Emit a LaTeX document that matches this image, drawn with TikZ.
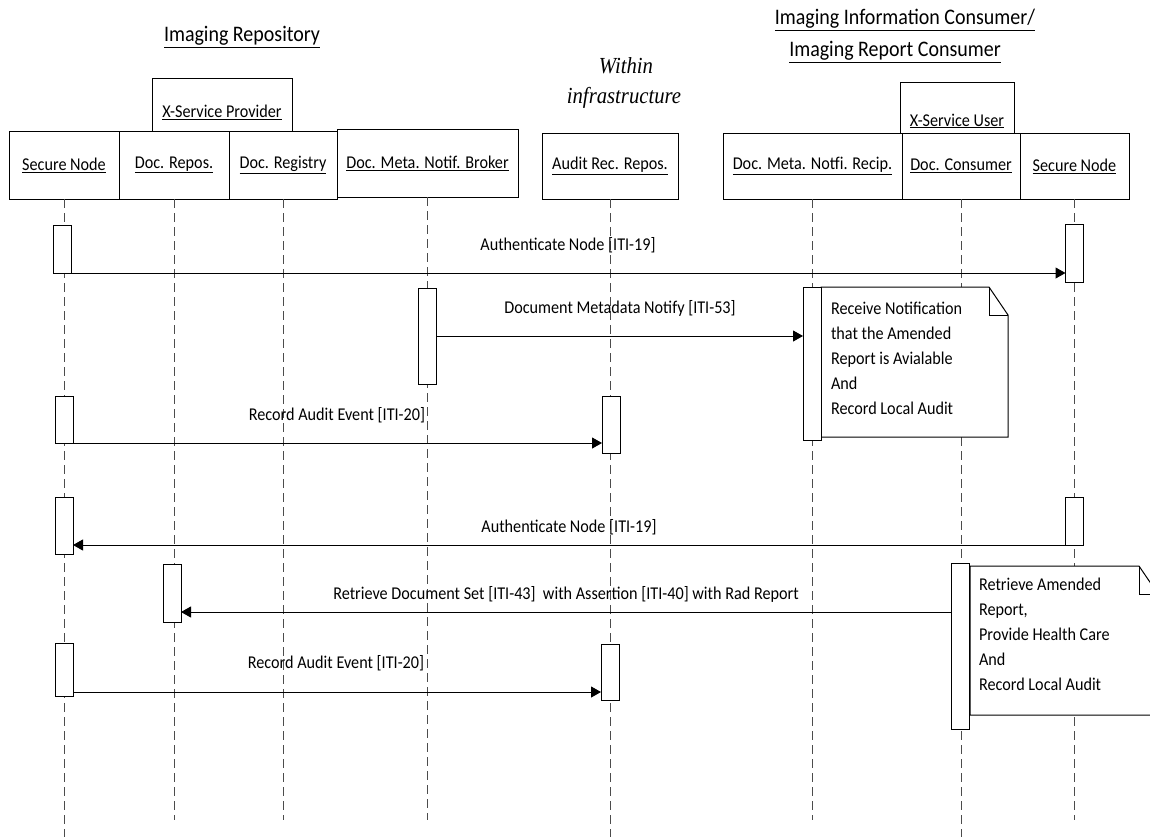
\documentclass[tikz,border=0pt]{standalone}
\usepackage{fontspec}
\setmainfont{Carlito}[FakeStretch=0.9]
\newfontfamily\serifit{Liberation Serif}[FakeStretch=0.9]
\usetikzlibrary{arrows.meta,calc}
\begin{document}
\begin{tikzpicture}[x=1pt,y=-1pt,
  every node/.style={inner sep=0pt, outer sep=0pt},
  hdr/.style={draw, line width=1pt, minimum height=68pt, font=\fontsize{18}{21}\selectfont},
  grp/.style={draw, line width=1pt},
  ttl/.style={font=\fontsize{22.2}{26}\selectfont},
  itl/.style={font=\serifit\itshape\fontsize{23}{27}\selectfont},
  life/.style={draw=black!70, line width=0.9pt, dash pattern=on 9pt off 5pt},
  act/.style={draw, fill=white, line width=1pt, minimum width=18pt},
  msg/.style={line width=1pt, -{Triangle[length=10pt,width=11pt]}},
  lbl/.style={font=\fontsize{18}{21}\selectfont},
  notetxt/.style={font=\fontsize{18}{25}\selectfont, align=left, anchor=north west},
  noteline/.style={line width=1pt},
]
\useasboundingbox (0,0) rectangle (1150,836);
\clip (0,0) rectangle (1150,836);
\fill[white] (0,0) rectangle (1150,836);

% titles
\node[ttl] (t1) at (242,37) {\underline{Imaging Repository}};
\node[ttl] (t2) at (905,20) {\underline{Imaging Information Consumer/}};
\node[ttl] (t3) at (895,52) {\underline{Imaging Report Consumer}};
\node[itl] (t4) at (626,66) {Within};
\node[itl] (t5) at (624,98) {infrastructure};

% group boxes
\node[grp, minimum width=140pt, minimum height=53pt] (xsp) at (222,104.5) {};
\node[lbl] (xspl) at (222,112) {\underline{X-Service Provider}};
\node[grp, minimum width=114pt, minimum height=51pt] (xsu) at (957,107.5) {};
\node[lbl] (xsul) at (957,121) {\underline{X-Service User}};

% participants
\node[hdr, minimum width=110pt] (sn1) at (64,165) {\underline{Secure Node}};
\node[hdr, minimum width=110pt] (drep) at (174,165) {\underline{Doc. Repos.}};
\node[hdr, minimum width=108pt] (dreg) at (283,165) {\underline{Doc. Registry}};
\node[hdr, minimum width=181pt] (brk) at (427.5,163) {\underline{Doc. Meta. Notif. Broker}};
\node[hdr, minimum width=136pt, minimum height=66pt] (aud) at (610,166) {\underline{Audit Rec. Repos.}};
\node[hdr, minimum width=179pt, minimum height=66pt] (rcp) at (812.5,166) {\underline{Doc. Meta. Notfi. Recip.}};
\node[hdr, minimum width=118pt, minimum height=66pt] (dcon) at (961,166) {\underline{Doc. Consumer}};
\node[hdr, minimum width=109pt, minimum height=66pt] (sn2) at (1074.5,166) {\underline{Secure Node}};

% lifelines
\coordinate (yb) at (0,845);
\coordinate (ye) at (0,820);
\draw[life] (sn1.south) -- (sn1.south |- yb);
\draw[life] (drep.south) -- (drep.south |- ye);
\draw[life] (dreg.south) -- (dreg.south |- ye);
\draw[life] (brk.south) -- (brk.south |- ye);
\draw[life] (aud.south) -- (aud.south |- yb);
\draw[life] (rcp.south) -- (rcp.south |- ye);
\draw[life] (dcon.south) -- (dcon.south |- yb);
\draw[life] (sn2.south) -- (sn2.south |- ye);

% activations
\node[act, minimum height=48pt] (a1) at (62,249) {};
\node[act, minimum height=58pt] (a2) at (1074.5,253) {};
\node[act, minimum height=96pt] (a3) at (427,336) {};
\node[act, minimum height=153pt] (a4) at (812,363.5) {};
\node[act, minimum height=47pt] (a5) at (64,419.5) {};
\node[act, minimum height=57pt] (a6) at (611,424.5) {};
\node[act, minimum height=57pt] (a7) at (64,525.5) {};
\node[act, minimum height=48pt] (a8) at (1074.5,521) {};
\node[act, minimum height=58pt] (a9) at (172,593) {};
\node[act, minimum height=166pt] (a10) at (960.5,646) {};
\node[act, minimum height=53pt] (a11) at (64,669.5) {};
\node[act, minimum height=56pt] (a12) at (610,672) {};

% messages
\draw[msg] (a1.south east) -- (a1.south east -| a2.west);
\draw[msg] (a3.east) -- (a3.east -| a4.west);
\draw[msg] (a5.south east) -- (a5.south east -| a6.west);
\draw[msg] (a8.south west) -- (a8.south west -| a7.east);
\draw[msg] ([yshift=10pt]a9.south east -| a10.west) -- ([yshift=10pt]a9.south east);
\draw[msg] ([yshift=4pt]a11.south east) -- ([yshift=4pt]a11.south east -| a12.west);

% labels
\node[lbl] (l1) at (568,245) {Authenticate Node [ITI-19]};
\node[lbl] (l2) at (620,308) {Document Metadata Notify [ITI-53]};
\node[lbl] (l3) at (337,415) {Record Audit Event [ITI-20]};
\node[lbl] (l4) at (569,527) {Authenticate Node [ITI-19]};
\node[lbl] (l5) at (566,594) {Retrieve Document Set [ITI-43]\ \ with Assertion [ITI-40] with Rad Report};
\node[lbl] (l6) at (336,663) {Record Audit Event [ITI-20]};

% notes
\node[anchor=north west, minimum width=187pt, minimum height=150pt] (n1) at (821,287) {};
\fill[white] (n1.north west) -- ([xshift=-19pt]n1.north east) -- ([yshift=-28pt]n1.north east) -- (n1.south east) -- (n1.south west) -- cycle;
\draw[noteline] (n1.north west) -- ([xshift=-19pt]n1.north east) -- ([yshift=-28pt]n1.north east) -- (n1.south east) -- (n1.south west) -- cycle;
\draw[noteline] ([xshift=-19pt]n1.north east) -- ([xshift=-19pt,yshift=-28pt]n1.north east) -- ([yshift=-28pt]n1.north east);
\node[notetxt] (n1t) at (831,302) {Receive Notification\\that the Amended\\Report is Avialable\\And\\Record Local Audit};

\node[anchor=north west, minimum width=188pt, minimum height=149pt] (n2) at (970,566) {};
\fill[white] (n2.north west) -- ([xshift=-19pt]n2.north east) -- ([yshift=-28pt]n2.north east) -- (n2.south east) -- (n2.south west) -- cycle;
\draw[noteline] (n2.north west) -- ([xshift=-19pt]n2.north east) -- ([yshift=-28pt]n2.north east) -- (n2.south east) -- (n2.south west) -- cycle;
\draw[noteline] ([xshift=-19pt]n2.north east) -- ([xshift=-19pt,yshift=-28pt]n2.north east) -- ([yshift=-28pt]n2.north east);
\node[notetxt] (n2t) at (979,578) {Retrieve Amended\\Report,\\Provide Health Care\\And\\Record Local Audit};

% redraw activations touching notes on top
\node[act, minimum height=153pt] (a4b) at (812,363.5) {};
\node[act, minimum height=166pt] (a10b) at (960.5,646) {};
\end{tikzpicture}
\end{document}
